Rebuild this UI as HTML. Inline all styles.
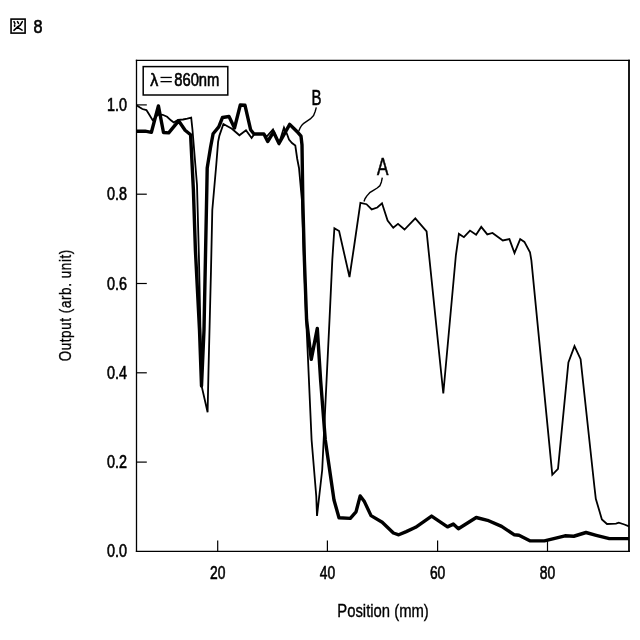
<!DOCTYPE html>
<html><head><meta charset="utf-8"><style>
html,body{margin:0;padding:0;background:#fff;}
svg{display:block;filter:grayscale(1);}
text{font-family:"Liberation Sans",sans-serif;fill:#000;stroke:#000;stroke-width:0.6px;}
</style></head><body>
<svg width="640" height="640" viewBox="0 0 640 640">
<rect width="640" height="640" fill="#fff"/>
<!-- figure label -->
<g fill="none" stroke="#000" stroke-width="1.6" stroke-linecap="round">
<rect x="11.05" y="19.1" width="14.05" height="14"/>
<path d="M14 21.7 L14.9 23.5 M17.5 21.7 L18.5 23.4 M14.6 25 L14.6 26.3 M22.3 21.7 L20.2 25.1 L17.4 27.1 L13.9 30.3 M17.2 27.1 L22.1 30.1"/>
</g>
<text x="33.6" y="32.8" font-size="18" textLength="9" lengthAdjust="spacingAndGlyphs">8</text>
<!-- frame -->
<line x1="136.5" y1="59.75" x2="136.5" y2="552.1" stroke="#000" stroke-width="1.3"/>
<line x1="135.85" y1="60.4" x2="629.9" y2="60.4" stroke="#000" stroke-width="1.3"/>
<line x1="629" y1="59.75" x2="629" y2="552.1" stroke="#000" stroke-width="1.8"/>
<line x1="135.85" y1="551.4" x2="629.9" y2="551.4" stroke="#000" stroke-width="1.4"/>
<!-- legend -->
<rect x="143.2" y="66.6" width="84.6" height="28.4" fill="none" stroke="#000" stroke-width="1.5"/>
<text x="150.3" y="86.2" font-size="18" textLength="8" lengthAdjust="spacingAndGlyphs">λ</text>
<rect x="160.5" y="76.8" width="11.3" height="1.3" fill="#000"/>
<rect x="160.5" y="81" width="11.3" height="1.3" fill="#000"/>
<text x="174.2" y="86.4" font-size="18" textLength="45.2" lengthAdjust="spacingAndGlyphs">860nm</text>
<line x1="136.5" y1="462.1" x2="146.8" y2="462.1" stroke="#000" stroke-width="1.2"/><line x1="136.5" y1="372.8" x2="146.8" y2="372.8" stroke="#000" stroke-width="1.2"/><line x1="136.5" y1="283.5" x2="146.8" y2="283.5" stroke="#000" stroke-width="1.2"/><line x1="136.5" y1="194.2" x2="146.8" y2="194.2" stroke="#000" stroke-width="1.2"/><line x1="136.5" y1="104.9" x2="146.8" y2="104.9" stroke="#000" stroke-width="1.2"/><line x1="217.7" y1="551" x2="217.7" y2="540.6" stroke="#000" stroke-width="1.2"/><line x1="327.4" y1="551" x2="327.4" y2="540.6" stroke="#000" stroke-width="1.2"/><line x1="437.6" y1="551" x2="437.6" y2="540.6" stroke="#000" stroke-width="1.2"/><line x1="547.5" y1="551" x2="547.5" y2="540.6" stroke="#000" stroke-width="1.2"/>
<g font-size="18"><text x="127" y="557.3" text-anchor="end" textLength="20" lengthAdjust="spacingAndGlyphs">0.0</text><text x="127" y="468.2" text-anchor="end" textLength="20" lengthAdjust="spacingAndGlyphs">0.2</text><text x="127" y="378.9" text-anchor="end" textLength="20" lengthAdjust="spacingAndGlyphs">0.4</text><text x="127" y="289.6" text-anchor="end" textLength="20" lengthAdjust="spacingAndGlyphs">0.6</text><text x="127" y="200.3" text-anchor="end" textLength="20" lengthAdjust="spacingAndGlyphs">0.8</text><text x="127" y="111.0" text-anchor="end" textLength="20" lengthAdjust="spacingAndGlyphs">1.0</text><text x="210.0" y="578.7" textLength="15.4" lengthAdjust="spacingAndGlyphs">20</text><text x="319.7" y="578.7" textLength="15.4" lengthAdjust="spacingAndGlyphs">40</text><text x="429.90000000000003" y="578.7" textLength="15.4" lengthAdjust="spacingAndGlyphs">60</text><text x="539.8" y="578.7" textLength="15.4" lengthAdjust="spacingAndGlyphs">80</text></g>
<!-- axis titles -->
<text x="337.3" y="616.6" style="stroke-width:0.35px" font-size="17.6" textLength="91.5" lengthAdjust="spacingAndGlyphs">Position (mm)</text>
<text style="stroke-width:0.35px" transform="translate(71.3,361.3) rotate(-90) scale(0.77,1)" x="0" y="0" font-size="17.4" textLength="144.9" lengthAdjust="spacing">Output (arb. unit)</text>
<!-- curves -->
<polyline points="136.5,105.3 139.6,107.3 142.4,109 146.4,110.1 149.2,114.6 152.6,120.2 155.5,117.5 158,114.5 162.7,114.8 167.1,116.8 170.9,120.3 173.7,122.5 178,119.8 183,119.5 187.3,118.7 191.2,117.6 192.5,130 197,185 199,260 201.6,386 207.6,412.2 208.5,370 211,270 212.3,210 216.25,165 218.1,141.9 219.4,135.6 223.4,124 231.9,128.75 239.4,135.3 246,130.2 251.6,138 254.4,134 263.9,134 266.7,136.5 273,129.4 279,143.5 284,127.5 287,134 289,139.5 292,143 295.3,145.6 297.2,158.75 299,168 301.9,200 304,260 306.2,320 307.5,348 311.6,440 316.25,496 317,515.9 322.2,470 329.5,320 332.3,260 334.4,228.3 339.1,231.1 349.5,277 354.3,245 360.4,202.8 366.5,204.2 371.7,209.4 377.3,207.5 382,203.3 387.6,220.6 393.25,227.7 398,223.9 404.5,229.5 415.3,218.3 426.6,231.4 443.3,393.5 455.9,255 458.9,233.9 463.9,237.2 470,230.6 476.1,234.8 481.25,226.9 487.3,234.4 492.5,233 502.8,240.5 509.4,239.1 514.5,253.1 520.2,239.1 524.4,241.9 530,252.2 531.4,260.6 552.3,474.8 558,468.75 568.4,362.5 574.5,346.1 580.6,359.2 594.5,487.5 595.8,498.75 601.9,519.4 607,524 616,523.6 618.75,522.7 624.4,524.5 629,526.4" fill="none" stroke="#000" stroke-width="1.8" stroke-linejoin="miter" stroke-miterlimit="3"/>
<polyline points="136.5,131.2 145.2,131.2 151.4,132.3 158.4,105.9 163.5,132.5 168.7,132.9 178.6,120.8 185.1,130.2 190.6,134.7 193.4,190 195.4,250 199.5,330 201.5,386 204,330 205.6,250 206.8,190 207.2,168 210.6,147 213.1,133.75 218.75,126.9 222.5,117.5 229,116.5 234.5,128 240.3,105 245,105.3 250.6,129.7 254,134 263.9,134 267.7,141.5 273.5,132 279,143.5 289.7,124.4 294.4,129 298.2,132.8 301,136.1 302,145 302.8,200 304.4,260 306.6,320 311.25,359.4 317.3,328.4 320.6,380 325.3,440 334,500 339,517.8 350.3,518.4 356,511.9 360.2,495.9 364.4,501.6 371,515.6 382.2,522.2 393.4,533 398.75,534.8 406.25,531.6 415.6,527.3 431.6,516.1 447.5,526.9 453.3,524.1 458.4,528.75 476.25,517.5 487.5,520.3 501.6,526.4 514.4,534.8 519,535.3 530.3,540.9 544.4,540.9 553.75,538.6 565,535.8 573.75,536.25 586,532.5 596.25,535.3 609.4,538.6 629,538.6" fill="none" stroke="#000" stroke-width="3.4" stroke-linejoin="round"/>
<!-- labels A, B with leaders -->
<text x="377.1" y="174.9" font-size="23.2" textLength="11.4" lengthAdjust="spacingAndGlyphs">A</text>
<polyline points="382.3,177.7 381.4,181.9 380,185.6 377.2,188 373.4,190.3 369.7,192.7 366.9,195.9 365,198.75 364,201.5" fill="none" stroke="#000" stroke-width="1.4" stroke-linejoin="round"/>
<text x="311.6" y="104.7" font-size="22.5" textLength="10" lengthAdjust="spacingAndGlyphs">B</text>
<polyline points="316.3,107.4 315.25,111.25 313.6,115.6 310.3,118.9 307,121.1 303.75,123.3 301.6,125.5 300,128.2 298.8,131" fill="none" stroke="#000" stroke-width="1.4" stroke-linejoin="round"/>
</svg>
</body></html>
